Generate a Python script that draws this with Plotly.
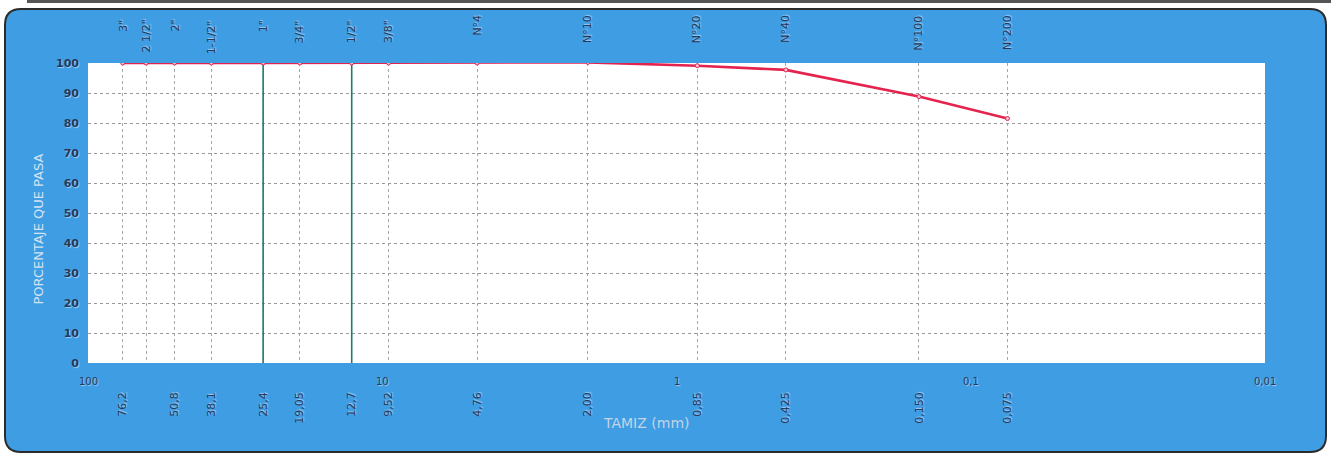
import numpy as np
import plotly.graph_objects as go

# ---- data ----
sieve_names = ['3"', '2 1/2"', '2"', '1-1/2"', '1"', '3/4"', '1/2"', '3/8"',
               'N°4', 'N°10', 'N°20', 'N°40', 'N°100', 'N°200']
sieve_mm = [76.2, 63.5, 50.8, 38.1, 25.4, 19.05, 12.7, 9.52,
            4.76, 2.00, 0.85, 0.425, 0.150, 0.075]
mm_labels = ['76,2', '', '50,8', '38,1', '25,4', '19,05', '12,7', '9,52',
             '4,76', '2,00', '0,85', '0,425', '0,150', '0,075']
pct_passing = [100, 100, 100, 100, 100, 100, 100, 100,
               100, 100.2, 99.1, 97.7, 88.8, 81.5]
major_vals = [100, 10, 1, 0.1, 0.01]
major_text = ['100', '10', '1', '0,1', '0,01']
green_lines = [25.4, 12.7]

# ---- layout geometry (pixels) ----
W, H = 1331, 456
L, R, T, B = 88, 66, 63, 93
PW, PH = W - L - R, H - T - B


def px(xp):
    return (xp - L) / PW


def py(yp):
    return (H - B - yp) / PH


BLUE = '#3f9de4'
TXT = '#27395a'
HALO = '1px 1px 1px rgba(235,245,255,0.55)'

fig = go.Figure()

for g in green_lines:
    fig.add_trace(go.Scatter(x=[g, g], y=[0, 100], mode='lines',
                             line=dict(color='#1d7c6a', width=1.6),
                             hoverinfo='skip', showlegend=False))

fig.add_trace(go.Scatter(
    x=sieve_mm, y=pct_passing, mode='lines+markers',
    line=dict(color='#e4234f', width=2.6),
    marker=dict(symbol='circle', size=4, color='#f9c9d4',
                line=dict(color='#e4234f', width=1)),
    showlegend=False))

# rounded blue panel
x0, x1 = px(5), px(1326)
y0, y1 = py(452), py(9)
rx, ry = 16 / PW, 16 / PH
path = (f"M {x0+rx} {y1} L {x1-rx} {y1} Q {x1} {y1} {x1} {y1-ry} "
        f"L {x1} {y0+ry} Q {x1} {y0} {x1-rx} {y0} "
        f"L {x0+rx} {y0} Q {x0} {y0} {x0} {y0+ry} "
        f"L {x0} {y1-ry} Q {x0} {y1} {x0+rx} {y1} Z")
shapes = [
    dict(type='line', xref='paper', yref='paper', x0=px(27), x1=px(1331),
         y0=py(1.5), y1=py(1.5), line=dict(color='#555555', width=3),
         layer='below'),
    dict(type='path', xref='paper', yref='paper', path=path,
         fillcolor=BLUE, line=dict(color='#2b2b2b', width=2), layer='below'),
    dict(type='rect', xref='paper', yref='paper', x0=0, x1=1, y0=0, y1=1,
         fillcolor='white', line=dict(width=0), layer='below'),
]

annotations = []
for name, v in zip(sieve_names, sieve_mm):
    top = 13 if name.startswith('N') else 18
    annotations.append(dict(
        x=np.log10(v), y=py(top), xref='x', yref='paper', text=name,
        textangle=-90, showarrow=False, xanchor='center', yanchor='top',
        font=dict(family='DejaVu Sans', size=11, color=TXT, shadow=HALO)))
for v, t in zip(major_vals, major_text):
    annotations.append(dict(
        x=np.log10(v), y=py(381), xref='x', yref='paper', text=t,
        showarrow=False, xanchor='center', yanchor='middle',
        font=dict(family='DejaVu Sans', size=10, color=TXT, shadow=HALO)))
annotations.append(dict(
    x=px(646), y=py(433), xref='paper', yref='paper', text='TAMIZ (mm)',
    showarrow=False, font=dict(family='DejaVu Sans', size=14, color='#c3d4e6')))
annotations.append(dict(
    x=px(28), y=py(229), xref='paper', yref='paper',
    text='PORCENTAJE QUE PASA', textangle=-90, showarrow=False,
    font=dict(family='DejaVu Sans', size=13, color='#d3e3f2')))

fig.update_layout(
    width=W, height=H,
    margin=dict(l=L, r=R, t=T, b=B),
    paper_bgcolor='white',
    plot_bgcolor='rgba(0,0,0,0)',
    shapes=shapes,
    annotations=annotations,
    xaxis=dict(type='log', range=[2, -2], tickmode='array',
               tickvals=sieve_mm, ticktext=mm_labels, tickangle=-90,
               ticks='', ticklabelstandoff=26,
               showgrid=True, gridcolor='#a8a8a8', griddash='dot',
               gridwidth=1, zeroline=False, showline=False,
               tickfont=dict(family='DejaVu Sans', size=11, color=TXT,
                             shadow=HALO)),
    yaxis=dict(range=[0, 100], dtick=10, showgrid=True, gridcolor='#999999',
               griddash='dot', gridwidth=1, zeroline=False, showline=False,
               ticks='', ticklabelstandoff=8,
               tickfont=dict(family='DejaVu Sans', size=11, color=TXT,
                             weight='bold', shadow=HALO)),
)

fig.write_html('out.html', config={'displayModeBar': False},
               post_script="document.body.style.margin='0px';"
                           "document.body.style.overflow='hidden';")
